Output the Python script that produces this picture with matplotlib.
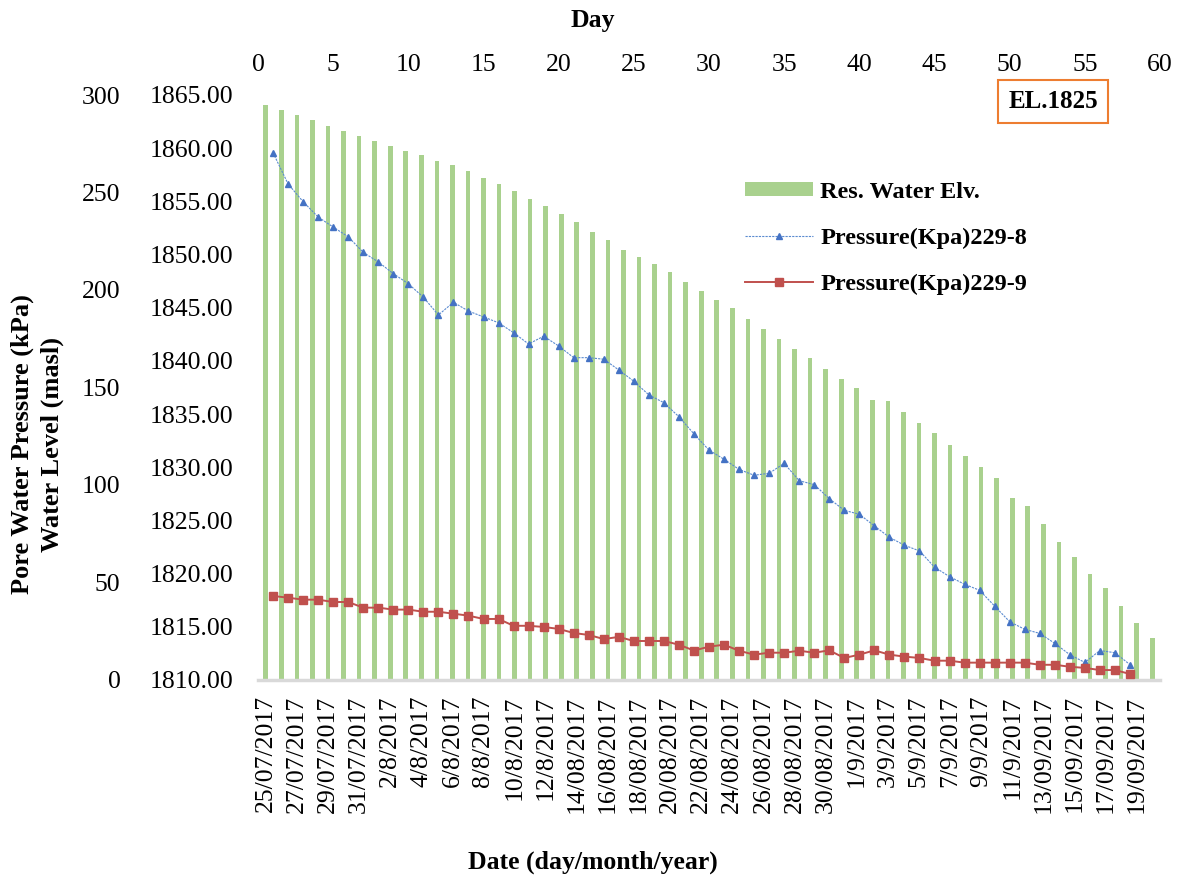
import matplotlib
matplotlib.use("Agg")
import matplotlib.pyplot as plt
from matplotlib.patches import Patch
from matplotlib.lines import Line2D

plt.rcParams['font.family'] = ['Liberation Serif', 'DejaVu Serif']

# ---- data ----
water_level = [1864.06, 1863.62, 1863.09, 1862.62, 1862.12, 1861.59, 1861.15, 1860.71,
               1860.21, 1859.74, 1859.36, 1858.80, 1858.42, 1857.83, 1857.17, 1856.61,
               1855.98, 1855.25, 1854.54, 1853.79, 1853.03, 1852.12, 1851.37, 1850.46,
               1849.74, 1849.08, 1848.33, 1847.39, 1846.60, 1845.76, 1844.98, 1843.94,
               1843.03, 1842.09, 1841.12, 1840.25, 1839.27, 1838.33, 1837.45, 1836.30,
               1836.20, 1835.17, 1834.16, 1833.22, 1832.12, 1831.09, 1830.00, 1828.96,
               1827.14, 1826.33, 1824.64, 1822.97, 1821.59, 1819.99, 1818.62, 1816.96,
               1815.36, 1813.98]

days = list(range(1, 59))

pressure_229_8 = [270.4, 254.4, 245.3, 237.4, 232.3, 227.3, 219.3, 214.4, 208.4, 203.2,
                  196.3, 187.2, 193.7, 189.2, 186.2, 183.2, 178.1, 172.3, 176.3, 171.3,
                  165.3, 165.3, 164.5, 159.0, 153.2, 146.2, 142.2, 135.0, 126.2, 117.9,
                  113.2, 108.0, 105.0, 106.0, 111.1, 102.2, 100.2, 93.0, 87.0, 85.0,
                  79.0, 73.2, 69.1, 66.2, 57.9, 53.0, 49.1, 46.0, 37.9, 29.9,
                  26.0, 23.9, 18.8, 13.0, 9.0, 15.1, 14.0, 7.9]

pressure_229_9 = [43.1, 42.2, 41.2, 41.2, 40.0, 40.0, 37.1, 37.1, 36.1, 36.1,
                  35.0, 35.0, 34.0, 33.0, 31.3, 31.3, 27.8, 27.8, 27.2, 26.2,
                  24.1, 23.1, 21.0, 22.1, 20.0, 20.0, 20.0, 18.1, 15.1, 17.1,
                  18.1, 15.0, 13.0, 14.0, 14.0, 15.0, 14.0, 15.2, 11.3, 13.0,
                  15.2, 13.0, 12.0, 11.3, 9.9, 9.9, 8.9, 8.9, 8.9, 8.9,
                  8.9, 7.8, 7.8, 6.8, 6.2, 5.1, 5.1, 3.1]

date_labels = ['25/07/2017', '27/07/2017', '29/07/2017', '31/07/2017', '2/8/2017',
               '4/8/2017', '6/8/2017', '8/8/2017', '10/8/2017', '12/8/2017',
               '14/08/2017', '16/08/2017', '18/08/2017', '20/08/2017', '22/08/2017',
               '24/08/2017', '26/08/2017', '28/08/2017', '30/08/2017', '1/9/2017',
               '3/9/2017', '5/9/2017', '7/9/2017', '9/9/2017', '11/9/2017',
               '13/09/2017', '15/09/2017', '17/09/2017', '19/09/2017']

level_ticks = [1810, 1815, 1820, 1825, 1830, 1835, 1840, 1845, 1850, 1855, 1860, 1865]
pressure_ticks = [0, 50, 100, 150, 200, 250, 300]
day_ticks = list(range(0, 61, 5))

# ---- styles ----
W, H = 1179, 881
fig = plt.figure(figsize=(W / 100, H / 100), dpi=100)
rect = [258 / W, 1 - 680 / H, (1160 - 258) / W, (680 - 95) / H]
tick_fs = 18.5
green = '#A9D18E'
blue = '#4472C4'
red = '#C0504D'

# bars: water level on categorical axis
ax = fig.add_axes(rect)
xs = list(range(len(water_level)))
ax.bar(xs, [v - 1810 for v in water_level], bottom=1810, width=0.3, color=green,
       edgecolor='none', zorder=1)
ax.set_xlim(-0.5, len(water_level) - 0.5)
ax.set_ylim(1810, 1865)
ax.set_yticks(level_ticks)
ax.set_yticklabels([f"{v:.2f}" for v in level_ticks])
ax.set_xticks(xs[::2])
ax.set_xticklabels(date_labels, rotation=90)
ax.tick_params(axis='y', length=0, pad=18, labelsize=tick_fs)
ax.tick_params(axis='x', length=0, pad=11, labelsize=tick_fs)
for s in ['top', 'right', 'left']:
    ax.spines[s].set_visible(False)
ax.spines['bottom'].set_color('#D9D9D9')
ax.spines['bottom'].set_linewidth(2.5)

# lines: pressure vs day
ax2 = fig.add_axes(rect, frameon=False)
ax2.set_zorder(ax.get_zorder() + 1)
ax2.plot(days, pressure_229_8, color='#5B8BD0', lw=0.8, ls=(0, (2, 1)), marker='^',
         markersize=5, markerfacecolor=blue, markeredgecolor=blue)
ax2.plot(days, pressure_229_9, color=red, lw=1.4, marker='s', markersize=6,
         markerfacecolor=red, markeredgecolor=red)
ax2.set_xlim(0, 60)
ax2.set_ylim(0, 300)
ax2.set_xticks(day_ticks)
ax2.set_yticks(pressure_ticks)
ax2.xaxis.tick_top()
ax2.tick_params(axis='x', length=0, pad=14, labelsize=tick_fs)
ax2.tick_params(axis='y', length=0, pad=99, labelsize=tick_fs)

# axis titles
fig.text(593 / W, 1 - 20 / H, 'Day', ha='center', va='center', fontsize=18.5, fontweight='bold')
fig.text(593 / W, 1 - 862 / H, 'Date (day/month/year)', ha='center', va='center',
         fontsize=18.5, fontweight='bold')
fig.text(22 / W, 1 - 444 / H, 'Pore Water Pressure (kPa)', ha='center', va='center',
         rotation=90, fontsize=19, fontweight='bold')
fig.text(52 / W, 1 - 445 / H, 'Water Level (masl)', ha='center', va='center',
         rotation=90, fontsize=19, fontweight='bold')

# annotation box
fig.text(1053 / W, 1 - 101 / H, 'EL.1825', ha='center', va='center', fontsize=18,
         fontweight='bold',
         bbox=dict(boxstyle='square,pad=0.4', fc='white', ec='#ED7D31', lw=1.5))

# legend
handles = [Patch(facecolor=green, edgecolor='none'),
           Line2D([], [], color='#5B8BD0', lw=0.8, ls=(0, (2, 1)), marker='^', markersize=5,
                  markerfacecolor=blue, markeredgecolor=blue),
           Line2D([], [], color=red, lw=1.4, marker='s', markersize=6)]
labels = ['Res. Water Elv.', 'Pressure(Kpa)229-8', 'Pressure(Kpa)229-9']
fig.legend(handles, labels, loc='upper left', bbox_to_anchor=(745 / W, 1 - 182 / H),
           frameon=False, borderpad=0, borderaxespad=0, handlelength=2.8,
           handleheight=0.5, handletextpad=0.3, labelspacing=1.02,
           prop={'weight': 'bold', 'size': 17.5})

fig.savefig('out.png', dpi=100)
